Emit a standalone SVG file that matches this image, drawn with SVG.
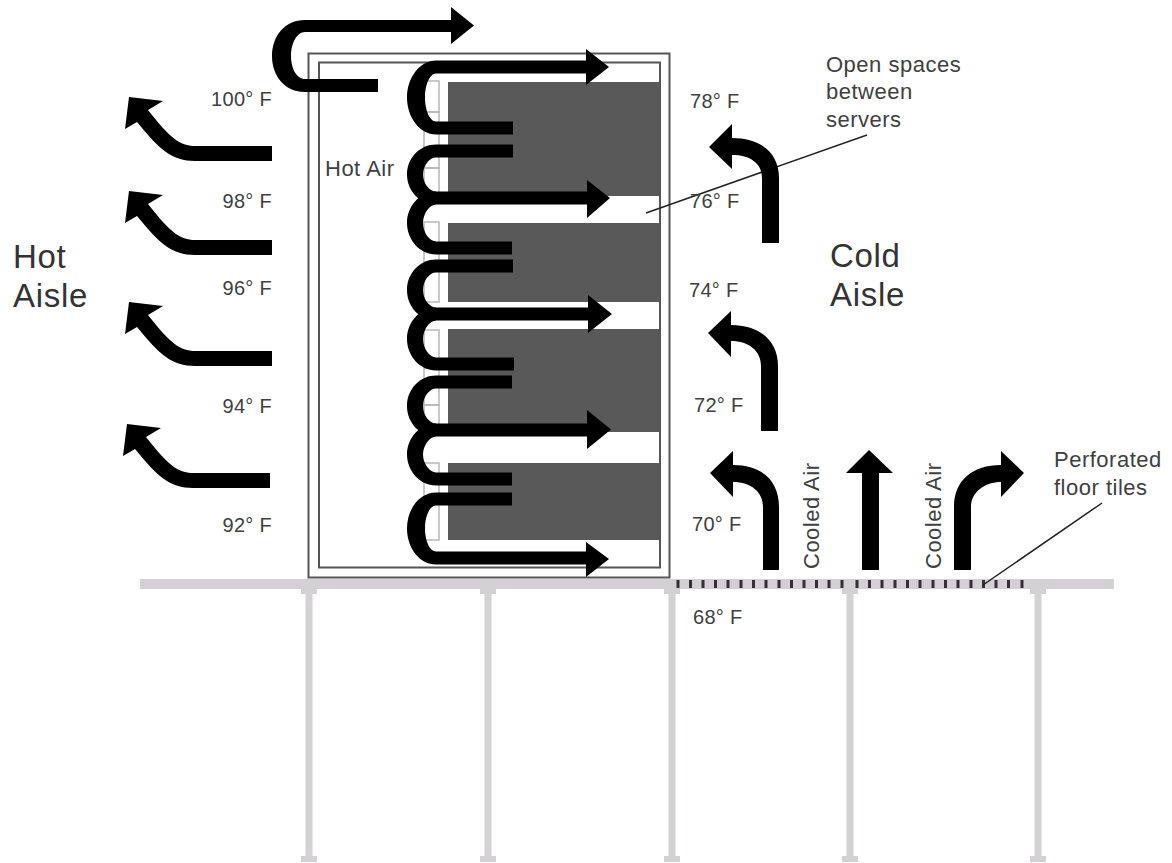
<svg xmlns="http://www.w3.org/2000/svg" width="1172" height="863" viewBox="0 0 1172 863">
<style>
text{font-family:"Liberation Sans",Arial,sans-serif;fill:#404040}
.t{font-size:20px;letter-spacing:.3px}
.e{text-anchor:end}
.l{font-size:33px;letter-spacing:.7px;fill:#333}
.n{font-size:22px;letter-spacing:.5px}
.floor{fill:#d4d1d4}
.tick{stroke:#333;stroke-width:3}
.frame{fill:none;stroke:#555;stroke-width:2}
.srv{fill:#595959}
.slot{fill:none;stroke:#b8b8b8;stroke-width:1.5}
.k{fill:#000}
.p{stroke:#222;stroke-width:1.5;fill:none}
</style>
<rect width="1172" height="863" fill="#fff"/>
<g id="floor">
<rect class="floor" x="140" y="579" width="974" height="10"/>
<g id="posts">
<path class="floor" d="M301 588h16v6h-4.500v262h4.500v6h-16v-6h4.500v-262h-4.500z"/>
<path class="floor" d="M480 588h16v6h-4.500v262h4.500v6h-16v-6h4.500v-262h-4.500z"/>
<path class="floor" d="M664 588h16v6h-4.500v262h4.500v6h-16v-6h4.500v-262h-4.500z"/>
<path class="floor" d="M842 588h16v6h-4.500v262h4.500v6h-16v-6h4.500v-262h-4.500z"/>
<path class="floor" d="M1030 588h16v6h-4.500v262h4.500v6h-16v-6h4.500v-262h-4.500z"/>
</g>
<path class="tick" d="M678 580v8M690.500 580v8M703 580v8M715.500 580v8M728 580v8M741 580v8M753.500 580v8M766 580v8M779 580v8M791.500 580v8M804 580v8M816.500 580v8M829 580v8M842 580v8M857 580v8M869.500 580v8M882 580v8M895 580v8M907.500 580v8M920 580v8M933 580v8M945.500 580v8M958 580v8M971 580v8M983.500 580v8M996 580v8M1008.500 580v8M1022 580v8"/>
</g>
<g id="rack">
<rect class="srv" x="448" y="82" width="212" height="114"/>
<rect class="srv" x="448" y="223" width="212" height="79"/>
<rect class="srv" x="448" y="329" width="212" height="103"/>
<rect class="srv" x="448" y="463" width="212" height="77"/>
<rect class="slot" x="424" y="81" width="15" height="31"/>
<rect class="slot" x="424" y="112" width="15" height="56"/>
<rect class="slot" x="424" y="168" width="15" height="28"/>
<rect class="slot" x="424" y="222" width="15" height="40"/>
<rect class="slot" x="424" y="262" width="15" height="40"/>
<rect class="slot" x="424" y="330" width="15" height="38"/>
<rect class="slot" x="424" y="368" width="15" height="37"/>
<rect class="slot" x="424" y="405" width="15" height="27"/>
<rect class="slot" x="424" y="463" width="15" height="77"/>
<rect class="frame" x="308.500" y="53.500" width="361" height="524"/>
<rect class="frame" x="319" y="62.500" width="341" height="505"/>
</g>
<g id="leaders">
<line class="p" x1="646" y1="213" x2="867" y2="135"/>
<line class="p" x1="983" y1="585" x2="1102" y2="503"/>
</g>
<g id="connectors">
<path class="k" d="M378 92H305C285 92 272 76 272 56C272 36 285 20 305 20H451V7L474 25.500L451 44V32H305C297 32 291 43 291 56C291 69 297 79 305 79H378Z"/>
<path class="k" d="M513 134.500H436C420 134.500 407 117.500 407 97.500C407 77.500 420 60.500 436 60.500H586V49L609 67L586 85V73.500H436C430 73.500 425 84.500 425 97.500C425 110.500 430 121.500 436 121.500H513Z"/>
<path class="k" d="M513 144.500H436C420 144.500 407 158 407 174.500C407 191 420 204.500 436 204.500H587V218L610 198L587 180V191.500H436C430 191.500 423 184 423 174.500C423 165 430 157.500 436 157.500H513Z"/>
<path class="k" d="M512 254.500H436C420 254.500 407 240 407 223C407 206 420 191.500 436 191.500V204.500C430 204.500 423 213 423 223C423 233 430 241.500 436 241.500H512Z"/>
<path class="k" d="M513 259.500H436C420 259.500 407 273 407 290C407 307 420 320.500 436 320.500H588V333L612 314L588 295V307.500H436C430 307.500 423 300 423 290C423 280 430 272.500 436 272.500H513Z"/>
<path class="k" d="M514 370.500H436C420 370.500 407 356 407 339C407 322 420 307.500 436 307.500V320.500C430 320.500 423 329 423 339C423 349 430 357.500 436 357.500H514Z"/>
<path class="k" d="M512 375.500H436C420 375.500 407 389 407 406C407 423 420 436.500 436 436.500H587V449L611 429.500L587 410V423.500H436C430 423.500 423 416 423 406C423 396 430 388.500 436 388.500H512Z"/>
<path class="k" d="M512 485.500H436C420 485.500 407 471 407 454.500C407 438 420 423.500 436 423.500V436.500C430 436.500 423 445 423 454.500C423 464 430 472.500 436 472.500H512Z"/>
<path class="k" d="M512 492.500H436C420 492.500 407 508.500 407 528.500C407 548.500 420 564.500 436 564.500H586V577L609 559L586 542V551.500H436C430 551.500 425 541.500 425 528.500C425 515.500 430 505.500 436 505.500H512Z"/>
<path id="hot1" class="k" d="M272 146H195C180 146 170 138 148 110L163 101L129 97L125 129L137 122C160 150 172 161 195 161H272Z"/>
<path id="hot2" class="k" d="M272 240H195C180 240 170 232 148 204L163 195L129 191L125 223L137 216C160 244 172 255 195 255H272Z"/>
<path id="hot3" class="k" d="M272 351H195C180 351 170 343 148 315L163 306L129 302L125 334L137 327C160 355 172 366 195 366H272Z"/>
<path id="hot4" class="k" d="M270 473H193C178 473 168 465 146 437L161 428L127 424L123 456L135 449C158 477 170 488 193 488H270Z"/>
<path id="cold1" class="k" d="M779 243H762V178C762 163 750 155 732 155V169L709 147L732 124V138C760 138 779 152 779 178Z"/>
<path id="cold2" class="k" d="M778 431H761V366C761 351 749 341 731 341V357L708 333L731 311V325C759 325 778 340 778 366Z"/>
<path id="cold3" class="k" d="M779 570H763V507C763 492 751 482 733 482V497L710 473L733 451V465C761 465 779 480 779 507Z"/>
<path id="up" class="k" d="M862 570V473H846L869 450L893 473H879V570Z"/>
<path id="right" class="k" d="M954 570H971V507C971 492 985 482 1001 482V497L1024 473L1001 451V465C973 465 954 480 954 507Z"/>
</g>
<g id="labels">
<text class="t e" x="272" y="106">100° F</text>
<text class="t e" x="272" y="208">98° F</text>
<text class="t e" x="272" y="295">96° F</text>
<text class="t e" x="272" y="413">94° F</text>
<text class="t e" x="272" y="532">92° F</text>
<text class="t" x="690" y="108">78° F</text>
<text class="t" x="690" y="208">76° F</text>
<text class="t" x="689" y="297">74° F</text>
<text class="t" x="694" y="412">72° F</text>
<text class="t" x="692" y="531">70° F</text>
<text class="t" x="693" y="624">68° F</text>
<text class="l" x="13" y="268">Hot</text>
<text class="l" x="13" y="307">Aisle</text>
<text class="l" x="830" y="267">Cold</text>
<text class="l" x="830" y="306">Aisle</text>
<text class="n" x="325" y="176">Hot Air</text>
<text class="n" x="826" y="72">Open spaces</text>
<text class="n" x="826" y="99">between</text>
<text class="n" x="826" y="127">servers</text>
<text class="n" x="1054" y="467">Perforated</text>
<text class="n" x="1054" y="495">floor tiles</text>
<text class="n" transform="translate(819 569) rotate(-90)">Cooled Air</text>
<text class="n" transform="translate(941 569) rotate(-90)">Cooled Air</text>
</g>
</svg>
